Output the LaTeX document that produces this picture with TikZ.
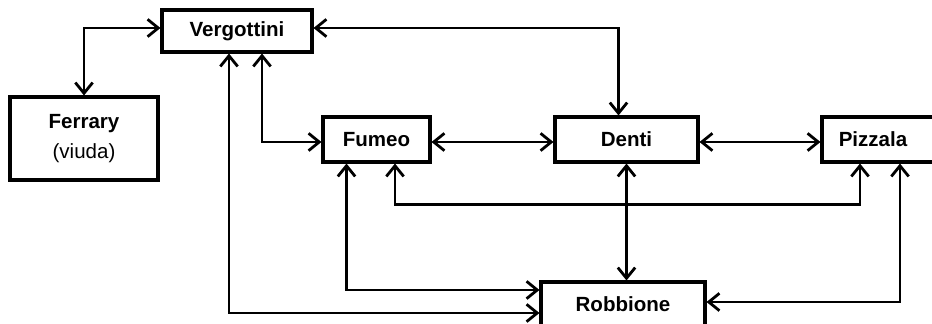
\documentclass[tikz,border=0pt]{standalone}
\usepackage{fontspec}
\setmainfont{Liberation Sans}
\usetikzlibrary{arrows.meta, calc, positioning}

\begin{document}
\begin{tikzpicture}[x=0.75pt, y=-0.75pt, >={Straight Barb[length=8pt, width=13pt]},
    person/.style={draw, line width=2.3pt, minimum height=33.75pt, inner sep=0pt,
        font=\fontsize{15.4}{22.5}\selectfont\bfseries},
    link/.style={<->, line width=2.1pt}]
    % Frame
    \clip (0,0) rectangle (932,324);

    % People
    \node[person, minimum width=112.5pt, minimum height=31.5pt] (vergottini) at (237,31) {Vergottini};
    \node[person, minimum width=111pt, minimum height=62.25pt, align=center] (ferrary) at (84,138.5) {Ferrary\\\mdseries(viuda)};
    \node[person, minimum width=80.25pt] (fumeo) at (376.5,139.5) {Fumeo};
    \node[person, minimum width=107.25pt] (denti) at (626.5,139.5) {Denti};
    \node[person, minimum width=90pt] (pizzala) at (882,139.5) {Pizzala\hspace*{13.5pt}};
    \node[person, minimum width=123pt, minimum height=33pt] (robbione) at (623,304) {Robbione};

    % Links
    \draw[link] (ferrary.north) |- ($(vergottini.west)+(0,-3)$);
    \draw[link] ($(vergottini.east)+(0,-3)$) -| ($(denti.north)+(-8,0)$);
    \draw[link] ($(vergottini.south)+(25,0)$) |- ($(fumeo.west)+(0,2.5)$);
    \draw[link] ($(vergottini.south)+(-8,0)$) |- ($(robbione.west)+(0,9)$);
    \draw[link] ($(fumeo.south)+(-30,0)$) |- ($(robbione.west)+(0,-14)$);
    \draw[link] ($(fumeo.south)+(18.5,0)$) -- ++(0,41) -| ($(pizzala.south)+(-22,0)$);
    \draw[link] ($(fumeo.east)+(0,2.5)$) -- ($(denti.west)+(0,2.5)$);
    \draw[link] ($(denti.east)+(0,2.5)$) -- ($(pizzala.west)+(0,2.5)$);
    \draw[link] (denti.south) -- (denti.south |- robbione.north);
    \draw[link] ($(pizzala.south)+(18,0)$) |- ($(robbione.east)+(0,-2)$);
\end{tikzpicture}
\end{document}
